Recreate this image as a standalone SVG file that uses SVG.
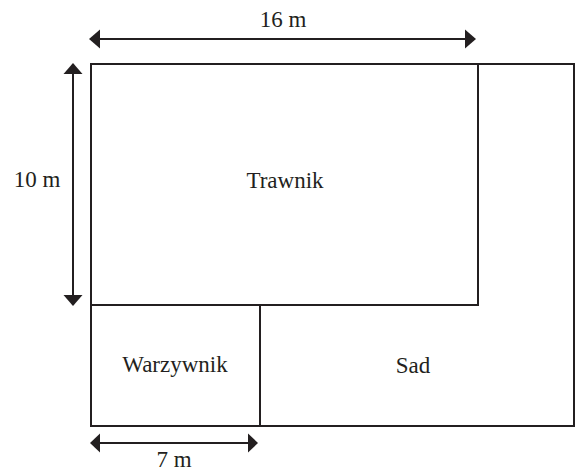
<svg xmlns="http://www.w3.org/2000/svg" width="581" height="474" viewBox="0 0 581 474">
<style>
.ln{fill:none;stroke:#231f20;stroke-width:2}
.ar{stroke:#231f20;stroke-width:2;fill:none}
.hd{fill:#231f20}
text{font-family:"Liberation Serif","DejaVu Serif",serif;font-size:23px;fill:#231f20;text-anchor:middle}
</style>
<rect width="581" height="474" fill="#fff"/>
<g id="trawnik">
<path class="ln" d="M91 64 H478 V305 H91 Z"/>
<text x="285" y="188">Trawnik</text>
</g>
<g id="warzywnik">
<rect class="ln" x="91" y="305" width="169" height="121"/>
<text x="175" y="372">Warzywnik</text>
</g>
<g id="sad">
<path class="ln" d="M478 64 H574 V426 H260 V305 H478 Z"/>
<text x="413" y="373">Sad</text>
</g>
<g id="connectors">
<line class="ar" x1="98" y1="39" x2="467" y2="39"/>
<polygon class="hd" points="89,39 100,29.5 100,48.5"/>
<polygon class="hd" points="476,39 465,29.5 465,48.5"/>
<line class="ar" x1="73" y1="72" x2="73" y2="296"/>
<polygon class="hd" points="73,63 63.5,74 82.5,74"/>
<polygon class="hd" points="73,306 63.5,295 82.5,295"/>
<line class="ar" x1="98" y1="443" x2="250" y2="443"/>
<polygon class="hd" points="90,443 100,433.5 100,452.5"/>
<polygon class="hd" points="258,443 248,433.5 248,452.5"/>
</g>
<g id="labels">
<text x="283" y="27">16 m</text>
<text x="37" y="187">10 m</text>
<text x="174" y="467">7 m</text>
</g>
</svg>
